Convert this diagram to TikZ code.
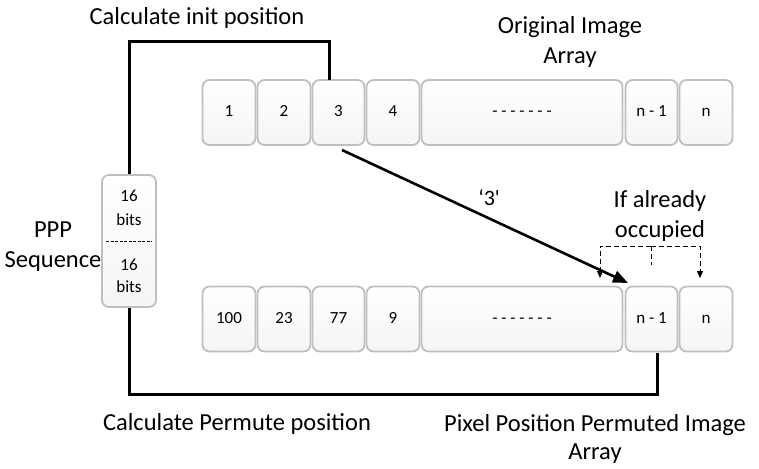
\documentclass[tikz,border=0pt]{standalone}
\usepackage{fontspec}
\setmainfont{Carlito}
\usetikzlibrary{arrows.meta,calc,shadows}
\begin{document}
\begin{tikzpicture}[x=1pt,y=-1pt,
  cell/.style={rounded corners=7pt,draw=gray!50,line width=1.8pt,top color=white,bottom color=gray!8,
    minimum height=65pt,inner sep=0pt,text height=12pt,text depth=3pt,font=\fontsize{17}{20}\selectfont},
  lbl/.style={font=\fontsize{24.5}{30}\selectfont,align=center,inner sep=0pt},
  conn/.style={line width=3pt,black},
  occ/.style={dashed,line width=1pt,dash pattern=on 5pt off 3pt}
]
\useasboundingbox (0,0) rectangle (759,468);
% top row
\node[cell,minimum width=53pt] (t1) at (229,112.5) {1};
\node[cell,minimum width=53pt] (t2) at (284,112.5) {2};
\node[cell,minimum width=52pt] (t3) at (338.5,112.5) {3};
\node[cell,minimum width=53pt] (t4) at (393,112.5) {4};
\node[cell,minimum width=201pt] (t5) at (522,112.5) {- - - - - - -};
\node[cell,minimum width=52pt] (t6) at (651.5,112.5) {n - 1};
\node[cell,minimum width=53pt] (t7) at (706,112.5) {n};
% bottom row
\node[cell,minimum width=53pt] (b1) at (229,319) {100};
\node[cell,minimum width=53pt] (b2) at (284,319) {23};
\node[cell,minimum width=52pt] (b3) at (338.5,319) {77};
\node[cell,minimum width=53pt] (b4) at (393,319) {9};
\node[cell,minimum width=201pt] (b5) at (522,319) {- - - - - - -};
\node[cell,minimum width=52pt] (b6) at (651.5,319) {n - 1};
\node[cell,minimum width=53pt] (b7) at (706,319) {n};
% PPP box
\node[cell,minimum width=54pt,minimum height=132pt] (ppp) at (129,241) {};
\draw[dashed,line width=0.8pt,dash pattern=on 3pt off 1.5pt] ($(ppp.west)+(5,0)$) -- ($(ppp.east)+(-5,0)$);
\node[font=\fontsize{17}{24}\selectfont,align=center] (s1) at (129,208) {16\\bits};
\node[font=\fontsize{17}{22}\selectfont,align=center] (s2) at (129,276) {16\\bits};
% labels
\node[lbl] (lcalc) at (197,18) {Calculate init position};
\node[lbl] (lorig) at (570,42) {Original Image\\Array};
\node[lbl] (lppp) at (53,247) {PPP\\Sequence};
\node[lbl] (locc) at (660,216) {If already\\occupied};
\node[lbl] (lperm) at (237,424) {Calculate Permute position};
\node[lbl,font=\fontsize{24.5}{28}\selectfont] (lpix) at (595,439) {Pixel Position Permuted Image\\Array};
% connectors
\coordinate (ttop) at (329,80);
\coordinate (bb) at (657,353);
\draw[conn] (ppp.north) -- (129,42) -| (ttop);
\draw[conn] (ppp.south) -- (129,394) -| (bb);
% main arrow
\coordinate (as) at (342,150);
\coordinate (ae) at (628,283);
\draw[line width=2.6pt,-{Triangle[length=15pt,width=12pt]}] (as) -- (ae) node[pos=0.5,above,lbl,font=\fontsize{22}{26}\selectfont,yshift=10pt,xshift=4pt] (l3) {‘3\textquotesingle};
% occupied dashed bracket
\coordinate (oL) at (600,278);
\coordinate (oR) at (700,278);
\coordinate (oC) at (651,265);
\draw[occ,-{Triangle[length=7pt,width=6pt]}] (651,246) -| (oL);
\draw[occ,-{Triangle[length=7pt,width=6pt]}] (651,246) -| (oR);
\draw[occ] (651,246) -- (oC);
\end{tikzpicture}
\end{document}
